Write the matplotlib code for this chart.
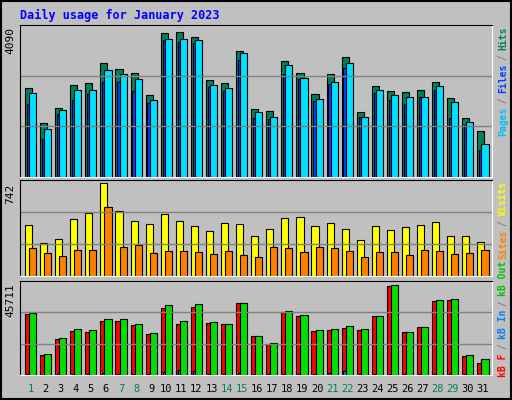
import matplotlib.pyplot as plt
from matplotlib.patches import Rectangle

days = list(range(1, 32))
weekend = [1, 7, 8, 14, 15, 21, 22, 28, 29]

hits = [1210, 730, 940, 1250, 1280, 1550, 1470, 1410, 1120, 1960, 1970, 1910, 1320, 1280, 1710, 920, 900, 1580, 1420, 1130, 1400, 1630, 890, 1240, 1170, 1160, 1180, 1290, 1070, 800, 620]
files = [1140, 650, 910, 1180, 1180, 1460, 1400, 1330, 1050, 1880, 1880, 1860, 1250, 1210, 1690, 880, 820, 1520, 1350, 1060, 1290, 1550, 820, 1180, 1120, 1090, 1090, 1240, 1020, 750, 450]
pages = [990, 520, 860, 1050, 1130, 1290, 1290, 1170, 1010, 1860, 1840, 1830, 1220, 1170, 1590, 800, 790, 1400, 1330, 1030, 1260, 1490, 820, 1140, 1050, 990, 1090, 1180, 800, 710, 370]
visits = [582, 373, 419, 652, 722, 1070, 745, 629, 594, 711, 629, 571, 513, 606, 594, 454, 536, 664, 676, 571, 606, 536, 408, 571, 524, 559, 582, 618, 454, 454, 384]
sites = [326, 268, 233, 303, 303, 791, 338, 350, 268, 291, 291, 280, 256, 291, 245, 221, 338, 326, 280, 338, 326, 291, 221, 280, 280, 245, 303, 291, 256, 268, 303]
kb_f = [30950, 10110, 18290, 22380, 21870, 27490, 27490, 25450, 20840, 34120, 25960, 34640, 26290, 25960, 36690, 19970, 15910, 32050, 30000, 22380, 22900, 23900, 22900, 30000, 45200, 21840, 24400, 37710, 38220, 9600, 6000]
kb_out = [31460, 10620, 18800, 23400, 22900, 28510, 28510, 25960, 21360, 35650, 27490, 36180, 27010, 26000, 36690, 19970, 16420, 32560, 30510, 22900, 23400, 24900, 23400, 30000, 45711, 21840, 24400, 38220, 38730, 10110, 8000]
kb_in = [500, 150, 500, 500, 500, 1000, 500, 500, 500, 1500, 2700, 2200, 500, 500, 1000, 500, 500, 500, 500, 500, 1000, 2200, 500, 500, 500, 500, 500, 500, 500, 500, 200]

W, H = 512, 400
fig = plt.figure(figsize=(W / 100, H / 100), dpi=100, facecolor='#C0C0C0')
plt.rcParams['font.family'] = 'DejaVu Sans Mono'


def panel(top, bottom):
    ax = fig.add_axes([20 / W, 1 - bottom / H, 472 / W, (bottom - top) / H])
    ax.set_facecolor('#C0C0C0')
    ax.set_xlim(0, 31.3)
    ax.set_xticks([])
    ax.set_yticks([])
    for s in ax.spines.values():
        s.set_color('white')
    ax.spines['left'].set_color('black')
    ax.spines['top'].set_color('black')
    return ax


def bars(ax, vals, offset, width, color):
    for i, v in enumerate(vals):
        ax.add_patch(Rectangle((i + offset, 0), width, v, facecolor=color,
                               edgecolor='black', linewidth=0.8))


# top panel
ax1 = panel(25, 177)
top1 = 2070
ax1.set_ylim(0, top1)
for g in (top1 / 3, 2 * top1 / 3):
    ax1.axhline(g, color='#808080', linewidth=1)
bars(ax1, hits, 0.33, 0.47, '#00805C')
bars(ax1, pages, 0.45, 0.47, '#0040FF')
bars(ax1, files, 0.6, 0.47, '#00E0FF')
fig.text(10 / W, 1 - 40 / H, '4090', rotation=90, ha='center', va='center', fontsize=8)

# middle panel
ax2 = panel(180, 276)
top2 = 1100
ax2.set_ylim(0, top2)
for g in (top2 / 3, 2 * top2 / 3):
    ax2.axhline(g, color='#808080', linewidth=1)
bars(ax2, visits, 0.33, 0.47, '#FFFF00')
bars(ax2, sites, 0.6, 0.47, '#FF8000')
fig.text(10 / W, 1 - 194 / H, '742', rotation=90, ha='center', va='center', fontsize=8)

# bottom panel
ax3 = panel(281, 375)
top3 = 47700
ax3.set_ylim(0, top3)
for g in (top3 / 3, 2 * top3 / 3):
    ax3.axhline(g, color='#808080', linewidth=1)
bars(ax3, kb_f, 0.33, 0.47, '#FF0000')
bars(ax3, kb_in, 0.45, 0.15, '#0080FF')
bars(ax3, kb_out, 0.6, 0.47, '#00E000')
fig.text(10 / W, 1 - 300 / H, '45711', rotation=90, ha='center', va='center', fontsize=8)

for i, d in enumerate(days):
    c = '#00805C' if d in weekend else 'black'
    fig.text((20 + (i + 0.7) * 472 / 31.3) / W, 1 - 389 / H, str(d), color=c,
             ha='center', va='center', fontsize=7.5)

fig.text(20 / W, 1 - 15 / H, 'Daily usage for January 2023', color='#0000FF',
         fontweight='bold', fontsize=8.5, va='center')


def side_label(parts, y_bottom):
    y = y_bottom
    for txt, col in parts:
        fig.text(503 / W, 1 - y / H, txt, color=col, rotation=90,
                 ha='center', va='bottom', fontsize=7, fontweight='bold')
        y -= len(txt) * 5.4


side_label([('Pages', '#00C0FF'), (' / ', '#808080'), ('Files', '#0040FF'),
            (' / ', '#808080'), ('Hits', '#00805C')], 136)
side_label([('Sites', '#FF8000'), (' / ', '#808080'), ('Visits', '#FFFF00')], 259)
side_label([('kB F', '#FF0000'), (' / ', '#808080'), ('kB In', '#0080FF'),
            (' / ', '#808080'), ('kB Out', '#00C000')], 377)

fig.patches.append(Rectangle((1 / W, 1 / H), 1 - 2 / W, 1 - 2 / H, transform=fig.transFigure,
                             fill=False, edgecolor='black', linewidth=1.5))
fig.savefig('out.png', dpi=100, facecolor=fig.get_facecolor())
